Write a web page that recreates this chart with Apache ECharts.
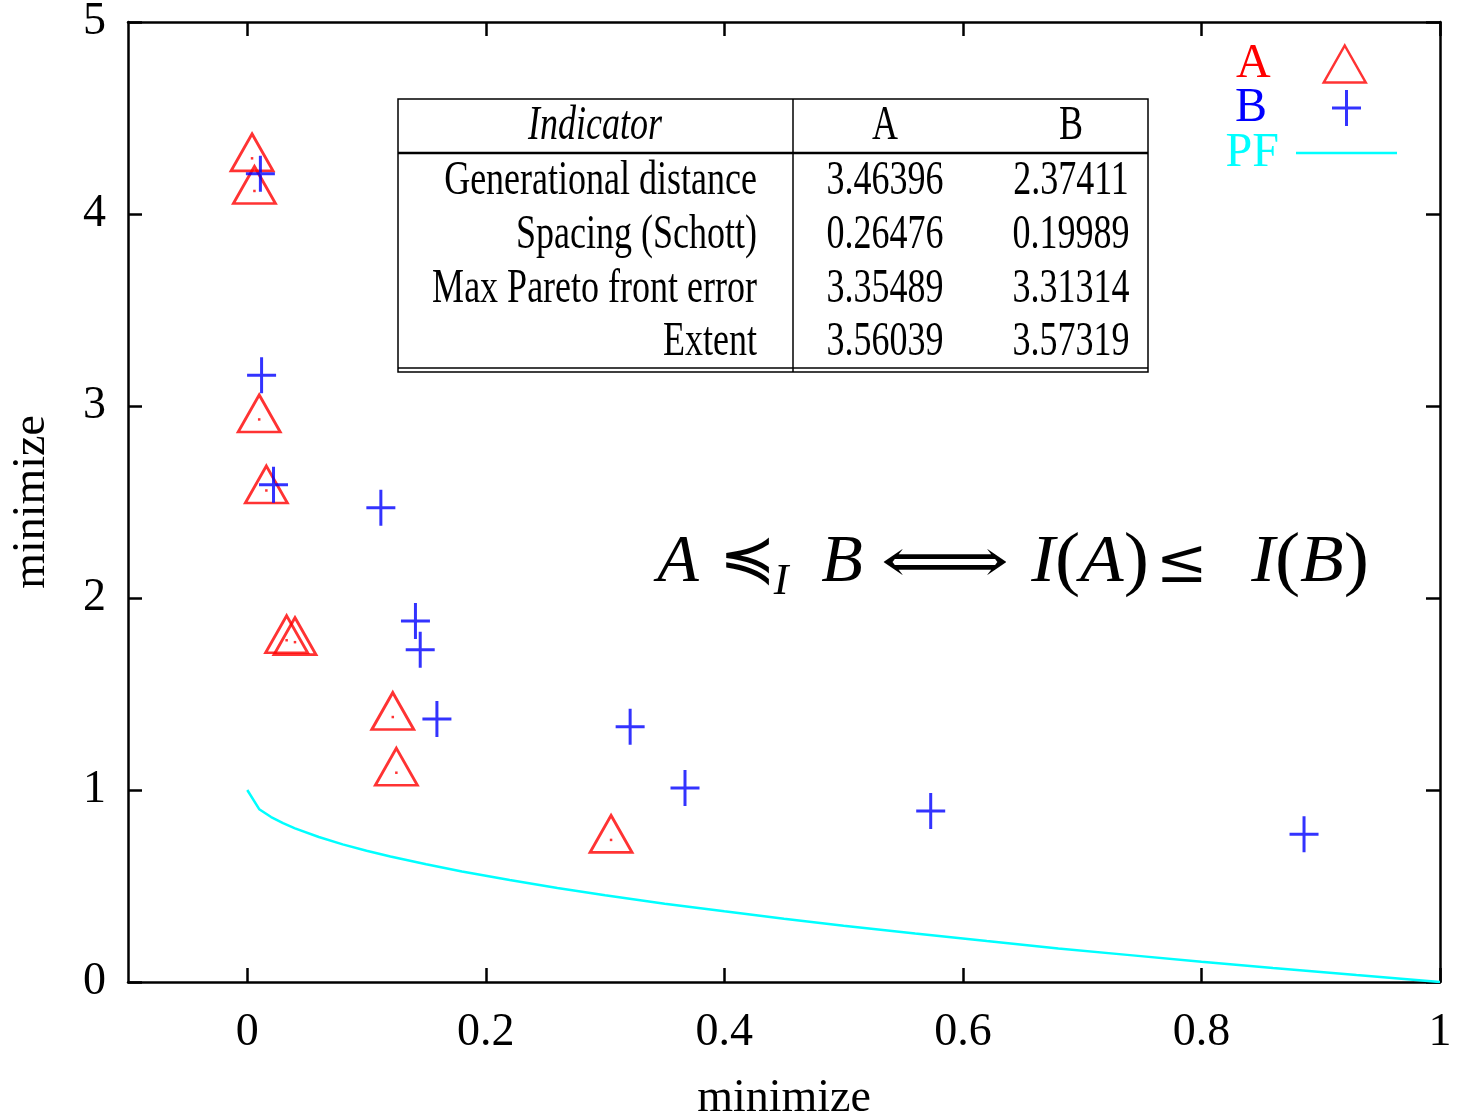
<!DOCTYPE html>
<html>
<head>
<meta charset="utf-8">
<script src="https://cdn.jsdelivr.net/npm/echarts@6/dist/echarts.min.js"></script>
<style>
  body { margin: 0; background: #fff; }
  #main { width: 1458px; height: 1113px; }
</style>
</head>
<body>
<div id="main"></div>
<script>
// values
const aX = [0.004, 0.006, 0.010, 0.016, 0.033, 0.040, 0.122, 0.125, 0.305];
const aY = [4.29, 4.12, 2.93, 2.56, 1.78, 1.77, 1.38, 1.09, 0.74];

const bX = [0.011, 0.012, 0.022, 0.112, 0.141, 0.145, 0.159, 0.321, 0.367, 0.573, 0.886];
const bY = [4.21, 3.16, 2.59, 2.47, 1.88, 1.73, 1.37, 1.33, 1.01, 0.89, 0.77];

// pareto front
const pfX = [0, 0.01, 0.02, 0.03, 0.04, 0.06, 0.08, 0.1, 0.12, 0.15, 0.18, 0.22, 0.26, 0.3, 0.35, 0.4, 0.45, 0.5, 0.56, 0.62, 0.68, 0.74, 0.8, 0.86, 0.93, 1];
const pfY = [1, 0.9, 0.859, 0.827, 0.8, 0.755, 0.717, 0.684, 0.654, 0.613, 0.576, 0.531, 0.49, 0.452, 0.408, 0.368, 0.329, 0.293, 0.252, 0.213, 0.175, 0.14, 0.106, 0.073, 0.036, 0];

const xTicks = [0, 0.2, 0.4, 0.6, 0.8, 1];

// indicator table
const indicatorNames = ["Generational distance", "Spacing (Schott)", "Max Pareto front error", "Extent"];
const valuesA = ["3.46396", "0.26476", "3.35489", "3.56039"];
const valuesB = ["2.37411", "0.19989", "3.31314", "3.57319"];

const serif = '"Liberation Serif", "Times New Roman", serif';
const plusPath = "path://M0,16.5H29V19.5H0Z M13,0H16V36H13Z";

const zip = (xs, ys) => xs.map((x, i) => [x, ys[i]]);

const tickStyle = { color: "#000", width: 2.5 };

function txt(x, y, text, align, extra, sx) {
  return {
    type: "text",
    x: x,
    y: y,
    scaleX: sx || 0.75,
    style: Object.assign({
      text: text,
      font: "48px " + serif,
      fill: "#000",
      align: align,
      textAlign: align,
      verticalAlign: "middle",
      textVerticalAlign: "middle",
    }, extra || {}),
  };
}

// table made of lines and text
const tableChildren = [
  { type: "rect", shape: { x: 0, y: 0, width: 750, height: 273 }, style: { fill: "none", stroke: "#000", lineWidth: 1.5 } },
  { type: "line", shape: { x1: 0, y1: 54, x2: 750, y2: 54 }, style: { stroke: "#000", lineWidth: 2.5 } },
  { type: "line", shape: { x1: 0, y1: 269, x2: 750, y2: 269 }, style: { stroke: "#000", lineWidth: 1.5 } },
  { type: "line", shape: { x1: 395, y1: 0, x2: 395, y2: 273 }, style: { stroke: "#000", lineWidth: 1.5 } },
  txt(197, 27, "Indicator", "center", { font: "italic 48px " + serif }),
  txt(487, 27, "A", "center"),
  txt(673, 27, "B", "center"),
];
const rowY = [82, 136, 190, 243];
indicatorNames.forEach((name, i) => {
  tableChildren.push(txt(359, rowY[i], name, "right"));
  tableChildren.push(txt(487, rowY[i], valuesA[i], "center"));
  tableChildren.push(txt(673, rowY[i], valuesB[i], "center"));
});

// the formula, piece by piece
const italic = "italic 68px " + serif;
const formula = [
  txt(678, 563, "A", "center", { font: italic }, 1),
  txt(748, 563, "≼", "center", { font: '62px "DejaVu Serif", serif' }, 1.1),
  txt(781, 582, "I", "center", { font: "italic 44px " + serif }, 1),
  txt(842, 563, "B", "center", { font: italic }, 1),
  txt(945, 566, "⟺", "center", { font: '62px "DejaVu Serif", serif' }, 1.45),
  txt(1090, 563, "{i|I}{r|(}{i|A}{r|)}", "center", {
    font: italic,
    rich: { i: { font: italic }, r: { font: "72px " + serif } },
  }, 1.05),
  txt(1182, 566, "≤", "center", { font: '62px "DejaVu Serif", serif' }, 1),
  txt(1310, 563, "{i|I}{r|(}{i|B}{r|)}", "center", {
    font: italic,
    rich: { i: { font: italic }, r: { font: "72px " + serif } },
  }, 1.05),
];

let chart = echarts.init(document.getElementById("main"));

chart.setOption({
  animation: false,
  backgroundColor: "#fff",
  grid: { left: 128, right: 18, top: 22, bottom: 131, outerBoundsMode: "none", containLabel: false },
  xAxis: [
    {
      type: "value",
      min: -0.1,
      max: 1,
      position: "bottom",
      splitLine: { show: false },
      axisLine: { onZero: false, lineStyle: tickStyle },
      axisTick: { inside: true, length: 14, customValues: xTicks, lineStyle: tickStyle },
      axisLabel: { customValues: xTicks, color: "#000", fontFamily: serif, fontSize: 46, margin: 28 },
      name: "minimize",
      nameLocation: "middle",
      nameGap: 94,
      nameTextStyle: { color: "#000", fontFamily: serif, fontSize: 46 },
    },
    {
      type: "value",
      min: -0.1,
      max: 1,
      position: "top",
      splitLine: { show: false },
      axisLine: { onZero: false, lineStyle: tickStyle },
      axisTick: { inside: true, length: 14, customValues: xTicks, lineStyle: tickStyle },
      axisLabel: { show: false, customValues: xTicks },
    },
  ],
  yAxis: [
    {
      type: "value",
      min: 0,
      max: 5,
      interval: 1,
      position: "left",
      splitLine: { show: false },
      axisLine: { onZero: false, lineStyle: tickStyle },
      axisTick: { inside: true, length: 14, lineStyle: tickStyle },
      axisLabel: { color: "#000", fontFamily: serif, fontSize: 46, margin: 22 },
      name: "minimize",
      nameLocation: "middle",
      nameGap: 73,
      nameTextStyle: { color: "#000", fontFamily: serif, fontSize: 46 },
    },
    {
      type: "value",
      min: 0,
      max: 5,
      interval: 1,
      position: "right",
      splitLine: { show: false },
      axisLine: { onZero: false, lineStyle: tickStyle },
      axisTick: { inside: true, length: 14, lineStyle: tickStyle },
      axisLabel: { show: false },
    },
  ],
  legend: [
    {
      data: [{ name: "A", itemStyle: { color: "rgba(0,0,0,0)", borderColor: "#ff0000", borderWidth: 2.5 } }],
      right: 91, top: 40, padding: 0,
      align: "right", selectedMode: false, symbolKeepAspect: false,
      itemWidth: 42, itemHeight: 37,
      formatter: "{name}    ",
      textStyle: { color: "#ff0000", fontFamily: serif, fontSize: 48 },
    },
    {
      data: ["B"],
      right: 97, top: 84, padding: 0,
      align: "right", selectedMode: false, symbolKeepAspect: false,
      itemWidth: 29, itemHeight: 36,
      formatter: "{name}     ",
      textStyle: { color: "#0000ff", fontFamily: serif, fontSize: 48 },
    },
    {
      data: [{ name: "PF", icon: "rect", itemStyle: { color: "#00ffff" } }],
      right: 61, top: 129, padding: 0,
      align: "right", selectedMode: false,
      itemWidth: 101, itemHeight: 2.5,
      formatter: "{name} ",
      textStyle: { color: "#00ffff", fontFamily: serif, fontSize: 48 },
    },
  ],
  graphic: [
    { type: "group", x: 398, y: 99, children: tableChildren },
    { type: "group", x: 0, y: 0, children: formula },
  ],
  series: [
    {
      name: "A",
      type: "scatter",
      data: zip(aX, aY),
      symbol: "triangle",
      symbolSize: [42, 37],
      symbolOffset: [0, -6],
      itemStyle: { color: "rgba(0,0,0,0)", borderColor: "#ff0000", borderWidth: 2.8 },
      emphasis: { disabled: true },
    },
    {
      name: "Adot",
      type: "scatter",
      data: zip(aX, aY),
      symbol: "rect",
      symbolSize: 2.5,
      itemStyle: { color: "#ff0000" },
      emphasis: { disabled: true },
    },
    {
      name: "B",
      type: "scatter",
      data: zip(bX, bY),
      symbol: plusPath,
      symbolSize: [29, 36],
      itemStyle: { color: "#0000ff" },
      emphasis: { disabled: true },
    },
    {
      name: "PF",
      type: "line",
      data: zip(pfX, pfY),
      symbol: "none",
      showSymbol: false,
      itemStyle: { color: "#00ffff" },
      lineStyle: { color: "#00ffff", width: 2.5 },
      emphasis: { disabled: true },
    },
  ],
});
</script>
</body>
</html>
